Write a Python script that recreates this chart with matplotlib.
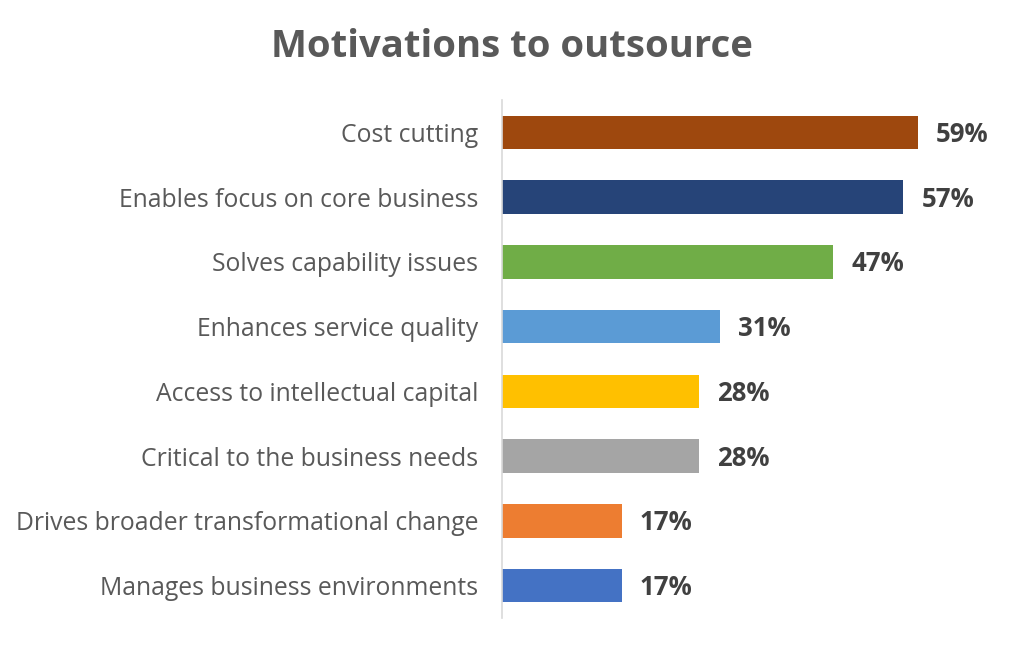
import matplotlib
matplotlib.use("Agg")
import matplotlib.pyplot as plt

plt.rcParams['font.family'] = ['Open Sans', 'DejaVu Sans']

categories = [
    "Cost cutting",
    "Enables focus on core business",
    "Solves capability issues",
    "Enhances service quality",
    "Access to intellectual capital",
    "Critical to the business needs",
    "Drives broader transformational change",
    "Manages business environments",
]
values = [59, 57, 47, 31, 28, 28, 17, 17]
colors = ["#9E480E", "#264478", "#70AD47", "#5B9BD5",
          "#FFC000", "#A5A5A5", "#ED7D31", "#4472C4"]

fig = plt.figure(figsize=(10.24, 6.48), dpi=100)
ax = fig.add_axes([502 / 1024, 30 / 648, 493 / 1024, 518 / 648])

y = list(range(len(categories)))
ax.barh(y, values, height=0.52, color=colors)
ax.set_ylim(len(categories) - 0.5, -0.5)
ax.set_xlim(0, 70)

ax.set_yticks(y)
ax.set_yticklabels(categories, fontsize=17.8, color="#595959")
ax.tick_params(axis="y", length=0, pad=17)
ax.set_xticks([])

for s in ["top", "right", "bottom"]:
    ax.spines[s].set_visible(False)
ax.spines["left"].set_color("#D9D9D9")
ax.spines["left"].set_linewidth(1.2)

for yi, v in zip(y, values):
    ax.annotate(f"{v}%", (v, yi), xytext=(13, -1.5), textcoords="offset points",
                va="center", ha="left", fontsize=18.5, fontweight="bold",
                color="#404040")

fig.text(0.5, 0.928, "Motivations to outsource", ha="center", va="center",
         fontsize=27.5, fontweight="bold", color="#595959")

fig.savefig("out.png", dpi=100)
